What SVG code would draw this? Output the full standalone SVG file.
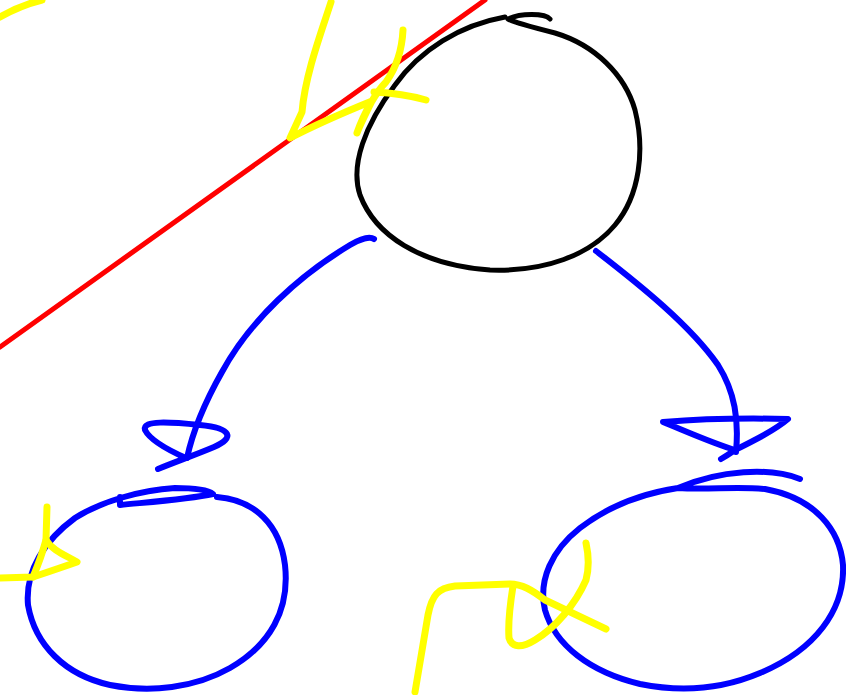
<svg xmlns="http://www.w3.org/2000/svg" width="846" height="695" viewBox="0 0 846 695">
<style>
.s{fill:none;stroke-linecap:round;stroke-linejoin:round}
.k{stroke:#000;stroke-width:5}
.b{stroke:#0000ff;stroke-width:6}
.y{stroke:#ffff00;stroke-width:7}
.r{stroke:#ff0000;stroke-width:5}
</style>
<rect width="846" height="695" fill="#fff"/>
<g id="annotations-back">
<path class="s y" d="M0,17 C12,10 26,4 42,0"/>
</g>
<g id="node-top">
<path class="s k" d="M505,17 C460,25 420,50 395,85 C365,125 350,165 360,195 C375,235 420,265 490,270 C545,272 590,255 615,225 C640,195 645,150 635,110 C625,75 595,45 555,33 C535,28 515,23 508,19 C520,13 545,13 550,19"/>
</g>
<g id="node-left">
<path class="s b" d="M217,497 C255,500 280,525 285,565 C290,610 270,645 230,668 C195,688 150,693 110,685 C65,675 35,645 28,605 C25,570 45,540 75,518 C100,502 140,490 175,488 C195,488 208,490 213,494 C190,499 150,502 120,505 L120,497"/>
</g>
<g id="node-right">
<path class="s b" d="M800,479 C770,467 720,470 678,488 C710,490 735,486 765,489 C815,498 840,530 843,565 C845,610 815,650 760,673 C720,690 680,692 640,684 C590,672 555,645 545,610 C538,580 552,550 580,528 C610,505 645,493 678,488"/>
</g>
<g id="connectors">
<path class="s b" d="M374,239 C370,236 360,239 350,245 C300,275 250,320 222,372 C205,402 193,430 187,458"/>
<path class="s b" d="M158,469 C175,462 195,455 214,447 C235,438 232,428 200,425 C170,422 142,420 145,430 C150,440 168,450 186,458"/>
<path class="s b" d="M596,251 C640,285 690,325 718,365 C735,392 739,420 736,452"/>
<path class="s b" d="M721,459 C728,455 732,452 735,450 C755,440 775,430 788,419 C745,418 700,419 663,422 C690,433 712,443 735,450"/>
</g>
<g id="annotations">
<path class="s r" d="M0,347 L485,0"/>
<path class="s y" d="M331,2 C322,30 305,75 302,112 L290,138 C315,125 345,112 372,101 C365,115 360,125 357,133 C365,110 378,90 386,82 C396,68 402,50 403,30"/>
<path class="s y" d="M374,92 C395,93 412,96 426,100"/>
<path class="s y" d="M47,507 L46,540 C52,550 65,555 77,562 C60,568 45,573 33,577 L0,578"/>
<path class="s y" d="M46,540 C42,555 38,565 33,577"/>
<path class="s y" d="M415,692 L428,615 C432,595 438,588 455,586 L510,584 C522,584 532,590 545,600 L606,629"/>
<path class="s y" d="M513,586 C510,605 508,625 509,638 C512,648 522,648 535,640 C555,628 575,605 586,580 C590,565 588,552 586,543"/>
</g>
</svg>
